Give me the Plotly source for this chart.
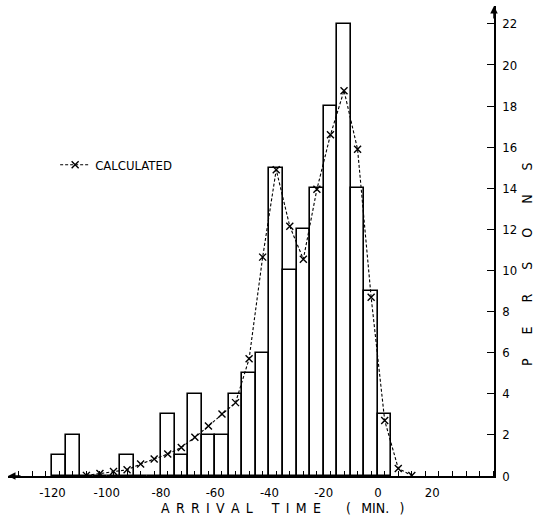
import plotly.graph_objects as go

# ---- data ----
bin_starts = [-120, -115, -110, -105, -100, -95, -90, -85, -80, -75, -70, -65,
              -60, -55, -50, -45, -40, -35, -30, -25, -20, -15, -10, -5, 0]
persons = [1, 2, 0, 0, 0, 1, 0, 0, 3, 1, 4, 2,
           2, 4, 5, 6, 15, 10, 12, 14, 18, 22, 14, 9, 3]

calc_time = [-107.5, -102.5, -97.5, -92.5, -87.5, -82.5, -77.5, -72.5, -67.5,
             -62.5, -57.5, -52.5, -47.5, -42.5, -37.5, -32.5, -27.5, -22.5,
             -17.5, -12.5, -7.5, -2.5, 2.5, 7.5, 12.5]
calc_persons = [0.03, 0.12, 0.22, 0.30, 0.58, 0.83, 1.07, 1.39, 1.88,
                2.43, 3.02, 3.57, 5.70, 10.65, 14.9, 12.15, 10.55, 13.95,
                16.6, 18.75, 15.9, 8.7, 2.7, 0.37, 0.02]

x_tick_vals = [-120, -100, -80, -60, -40, -20, 0, 20]
x_tick_text = ["-120", "-100", "-80", "-60", "-40", "-20", "0", "20"]
y_tick_vals = [0, 2, 4, 6, 8, 10, 12, 14, 16, 18, 20, 22]

BIN_WIDTH = 5
centers = [s + BIN_WIDTH / 2 for s in bin_starts]

FONT = "DejaVu Sans Condensed, Liberation Sans Narrow, Arial Narrow, sans-serif"
NB = "\u00a0"
EN = "\u2002"

fig = go.Figure()
fig.add_trace(go.Bar(
    x=centers, y=persons, width=BIN_WIDTH,
    marker=dict(color="white", line=dict(color="black", width=1.6)),
    showlegend=False, name="OBSERVED",
))
fig.add_trace(go.Scatter(
    x=calc_time, y=calc_persons, mode="lines+markers", name="CALCULATED",
    line=dict(color="black", width=1.1, dash="3px,2px"),
    marker=dict(symbol="x-thin", size=7, line=dict(color="black", width=1.4)),
))

fig.update_layout(
    width=540, height=520,
    margin=dict(l=8, r=46, t=6, b=44),
    paper_bgcolor="white", plot_bgcolor="white",
    bargap=0,
    font=dict(family=FONT, size=13, color="black"),
    legend=dict(x=0.097, y=0.662, xanchor="left", yanchor="middle",
                bgcolor="rgba(0,0,0,0)", font=dict(family=FONT, size=13)),
)
fig.update_xaxes(
    range=[-136.4, 42.8], showgrid=False, zeroline=False,
    showline=True, linecolor="black", linewidth=1.5,
    tickvals=x_tick_vals, ticktext=x_tick_text, ticks="", ticklabelstandoff=4,
    minor=dict(tick0=2.5, dtick=5, ticks="inside", ticklen=5,
               tickcolor="black", tickwidth=1.2),
)
fig.update_yaxes(
    range=[0, 22.87], side="right", showgrid=False, zeroline=False,
    showline=True, linecolor="black", linewidth=1.5,
    tickvals=y_tick_vals, ticks="inside", ticklen=7, tickcolor="black",
    tickwidth=1.2, ticklabelstandoff=4,
)

# axis arrows
fig.add_annotation(xref="paper", yref="y", x=0, y=0, ax=14, ay=0, text="",
                   showarrow=True, arrowhead=2, arrowsize=1, arrowwidth=1.5,
                   arrowcolor="black")
fig.add_annotation(xref="paper", yref="paper", x=1, y=1, ax=0, ay=14, text="",
                   showarrow=True, arrowhead=2, arrowsize=1, arrowwidth=1.5,
                   arrowcolor="black")

# axis titles
x_title = (EN.join("ARRIVAL") + EN * 3 + EN.join("TIME") + EN * 4
           + "(" + EN + NB + "MIN." + EN + NB + ")")
y_title = (NB * 6).join("PERSONS")
fig.add_annotation(xref="paper", yref="paper", x=(282 - 8) / 486, y=-32 / 470,
                   text=x_title, showarrow=False, font=dict(size=14),
                   xanchor="center", yanchor="middle")
fig.add_annotation(xref="paper", yref="paper", x=(527 - 8) / 486, y=(476 - 264) / 470,
                   text=y_title, showarrow=False, font=dict(size=14), textangle=-90,
                   xanchor="center", yanchor="middle")

fig.write_html("out.html")
